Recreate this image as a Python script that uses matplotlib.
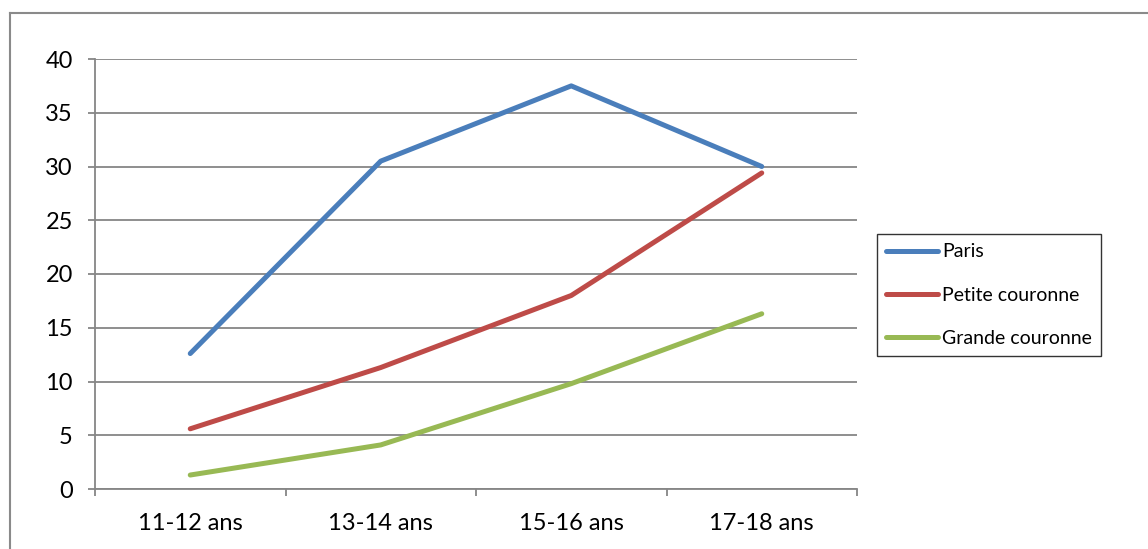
import matplotlib
matplotlib.use("Agg")
import matplotlib.pyplot as plt
from matplotlib.lines import Line2D

categories = ["11-12 ans", "13-14 ans", "15-16 ans", "17-18 ans"]
paris = [12.6, 30.5, 37.5, 30.0]
petite_couronne = [5.6, 11.3, 18.0, 29.4]
grande_couronne = [1.3, 4.1, 9.8, 16.3]
series_names = ["Paris", "Petite couronne", "Grande couronne"]
colors = ["#4A7EBB", "#BE4B48", "#98B954"]
y_ticks = [0, 5, 10, 15, 20, 25, 30, 35, 40]

plt.rcParams['font.family'] = ['Lato', 'DejaVu Sans']

W, H = 1148, 549
fig = plt.figure(figsize=(W / 100, H / 100), dpi=100)
ax = fig.add_axes([95 / W, (H - 489) / H, 762 / W, 430 / H])

x = list(range(len(categories)))
for vals, name, c in zip([paris, petite_couronne, grande_couronne], series_names, colors):
    ax.plot(x, vals, color=c, lw=3.6, label=name, solid_capstyle='round', solid_joinstyle='round', zorder=3)

grid_c = "#868686"
ax.set_xlim(-0.5, len(categories) - 0.5)
ax.set_ylim(0, 40)
ax.set_yticks(y_ticks)
ax.set_yticklabels([str(v) for v in y_ticks])
ax.yaxis.grid(True, color=grid_c, lw=1.3)
ax.set_axisbelow(True)
ax.set_xticks(x)
ax.set_xticklabels(categories)
ax.set_xticks([i - 0.5 for i in range(len(categories) + 1)], minor=True)
ax.tick_params(axis='x', which='major', length=0, pad=17.5, labelsize=17, colors='black')
ax.tick_params(axis='x', which='minor', length=5, width=1.3, color=grid_c, direction='out')
ax.tick_params(axis='y', length=5, width=1.3, color=grid_c, pad=11, labelsize=17)
for s in ['top', 'right']:
    ax.spines[s].set_visible(False)
for s in ['left', 'bottom']:
    ax.spines[s].set_color(grid_c)
    ax.spines[s].set_linewidth(1.3)

# outer chart border
fig.add_artist(Line2D([10 / W, 1.0], [(H - 13) / H, (H - 13) / H], color="#8a8a8a", lw=1.5))
fig.add_artist(Line2D([10 / W, 10 / W], [0, (H - 13) / H], color="#8a8a8a", lw=1.5))

leg = fig.legend(loc='upper left', bbox_to_anchor=(877 / W, (H - 234) / H), borderaxespad=0,
                 frameon=True, fancybox=False, edgecolor='black', fontsize=14,
                 handlelength=2.65, handletextpad=0.2, labelspacing=1.35,
                 borderpad=0.48)
leg.get_frame().set_linewidth(1.0)

fig.savefig("out.png", dpi=100)
